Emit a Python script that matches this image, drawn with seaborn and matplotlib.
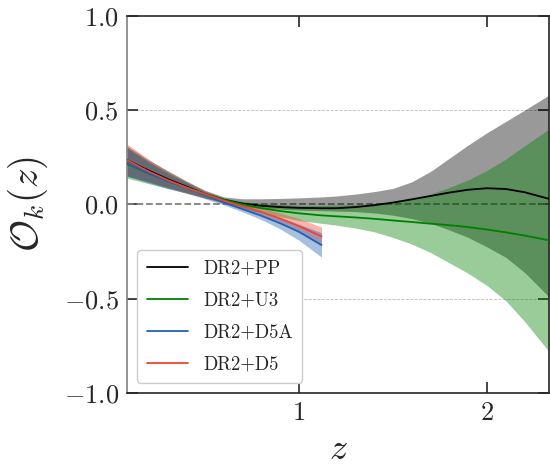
import numpy as np
import pandas as pd
import matplotlib
matplotlib.use("Agg")
import matplotlib.pyplot as plt
import seaborn as sns

# redshift grids
z_long = [0.085, 0.2, 0.3, 0.4, 0.5, 0.6, 0.7, 0.8, 0.9, 1.0, 1.12,
          1.2, 1.3, 1.4, 1.5, 1.6, 1.7, 1.8, 1.9, 2.0, 2.1, 2.2, 2.33]
z_short = [0.085, 0.2, 0.3, 0.4, 0.5, 0.6, 0.7, 0.8, 0.9, 1.0, 1.12]

# DR2+PP
pp_mid = [0.235, 0.18, 0.135, 0.095, 0.055, 0.025, 0.005, -0.007, -0.014, -0.018, -0.02,
          -0.02, -0.014, -0.004, 0.01, 0.027, 0.045, 0.063, 0.078, 0.086, 0.082, 0.065, 0.03]
pp_hi = [0.31, 0.235, 0.18, 0.125, 0.075, 0.04, 0.03, 0.03, 0.032, 0.035, 0.04,
         0.045, 0.055, 0.068, 0.085, 0.12, 0.175, 0.245, 0.315, 0.38, 0.44, 0.50, 0.58]
pp_lo = [0.15, 0.12, 0.09, 0.065, 0.035, 0.01, -0.012, -0.02, -0.025, -0.03, -0.033,
         -0.035, -0.038, -0.045, -0.057, -0.075, -0.1, -0.135, -0.175, -0.225, -0.28, -0.36, -0.49]

# DR2+U3
u3_mid = [0.215, 0.165, 0.125, 0.09, 0.055, 0.025, 0.0, -0.02, -0.035, -0.047, -0.058,
          -0.063, -0.069, -0.076, -0.085, -0.093, -0.102, -0.11, -0.12, -0.133, -0.148, -0.165, -0.19]
u3_hi = [0.30, 0.225, 0.17, 0.12, 0.07, 0.035, 0.015, 0.005, 0.0, -0.005, -0.005,
         -0.003, -0.001, 0.003, 0.01, 0.028, 0.055, 0.09, 0.13, 0.18, 0.24, 0.31, 0.40]
u3_lo = [0.14, 0.11, 0.085, 0.06, 0.035, 0.01, -0.02, -0.045, -0.065, -0.085, -0.1,
         -0.11, -0.125, -0.145, -0.175, -0.21, -0.255, -0.31, -0.365, -0.43, -0.51, -0.62, -0.78]

# DR2+D5A
d5a_mid = [0.22, 0.165, 0.125, 0.09, 0.05, 0.01, -0.025, -0.06, -0.1, -0.145, -0.215]
d5a_hi = [0.30, 0.225, 0.165, 0.115, 0.065, 0.02, -0.01, -0.04, -0.07, -0.105, -0.15]
d5a_lo = [0.15, 0.115, 0.085, 0.06, 0.03, -0.002, -0.04, -0.08, -0.13, -0.19, -0.28]

# DR2+D5
d5_mid = [0.235, 0.175, 0.13, 0.09, 0.055, 0.02, -0.01, -0.04, -0.075, -0.115, -0.17]
d5_hi = [0.32, 0.24, 0.175, 0.12, 0.07, 0.03, 0.0, -0.02, -0.045, -0.075, -0.12]
d5_lo = [0.16, 0.12, 0.09, 0.06, 0.035, 0.005, -0.025, -0.06, -0.1, -0.15, -0.22]

labels = ["DR2+PP", "DR2+U3", "DR2+D5A", "DR2+D5"]
colors = ["black", "green", "#1f62b4", "#ee4433"]

series = [
    (z_long, pp_mid, pp_lo, pp_hi),
    (z_long, u3_mid, u3_lo, u3_hi),
    (z_short, d5a_mid, d5a_lo, d5a_hi),
    (z_short, d5_mid, d5_lo, d5_hi),
]

sns.set_style("ticks")
plt.rcParams["font.family"] = "serif"
plt.rcParams["font.serif"] = ["cmr10"]
plt.rcParams["mathtext.fontset"] = "cm"
plt.rcParams["axes.formatter.use_mathtext"] = True
plt.rcParams["axes.unicode_minus"] = True

rows = []
for lab, (zz, mid, lo, hi) in zip(labels, series):
    for a, b in zip(zz, mid):
        rows.append({"z": a, "ok": b, "label": lab})
df = pd.DataFrame(rows)

fig = plt.figure(figsize=(5.5, 4.7), dpi=100)
ax = fig.add_axes([0.231, 0.164, 0.767, 0.802])

# grid and zero line
for yv in [-0.5, 0.5]:
    ax.axhline(yv, color="#bbbbbb", ls="--", lw=0.6, zorder=0)
ax.axhline(0.0, color="gray", ls="--", lw=1.3, zorder=1)

# bands: blue one goes on last, gives the slate overlap on the left
for i in [0, 1, 3, 2]:
    zz, mid, lo, hi = series[i]
    ax.fill_between(zz, lo, hi, color=colors[i], alpha=0.4, lw=0, zorder=2)

sns.lineplot(data=df, x="z", y="ok", hue="label", hue_order=labels,
             palette=dict(zip(labels, colors)), errorbar=None,
             linewidth=1.3, ax=ax, zorder=3)

ax.set_xlim(0.085, 2.33)
ax.set_ylim(-1.0, 1.0)
ax.set_xticks([1, 2])
ax.set_yticks([-1.0, -0.5, 0.0, 0.5, 1.0])
ax.tick_params(direction="in", top=True, right=True, length=8, width=1.2,
               labelsize=19, pad=6)
ax.set_xlabel(r"$z$", fontsize=26, labelpad=7)
ax.set_ylabel(r"$\mathcal{O}_k(z)$", fontsize=28, labelpad=10)
for s in ax.spines.values():
    s.set_linewidth(1.2)
ax.spines["left"].set_color("gray")

handles, labs = ax.get_legend_handles_labels()
ax.legend(handles, labs, loc="lower left", fontsize=13.5, frameon=True,
          framealpha=1.0, edgecolor="#cccccc", borderaxespad=0.55,
          handlelength=2.2, handletextpad=0.8, labelspacing=0.75,
          borderpad=0.5)

fig.savefig("out.png", dpi=100)
